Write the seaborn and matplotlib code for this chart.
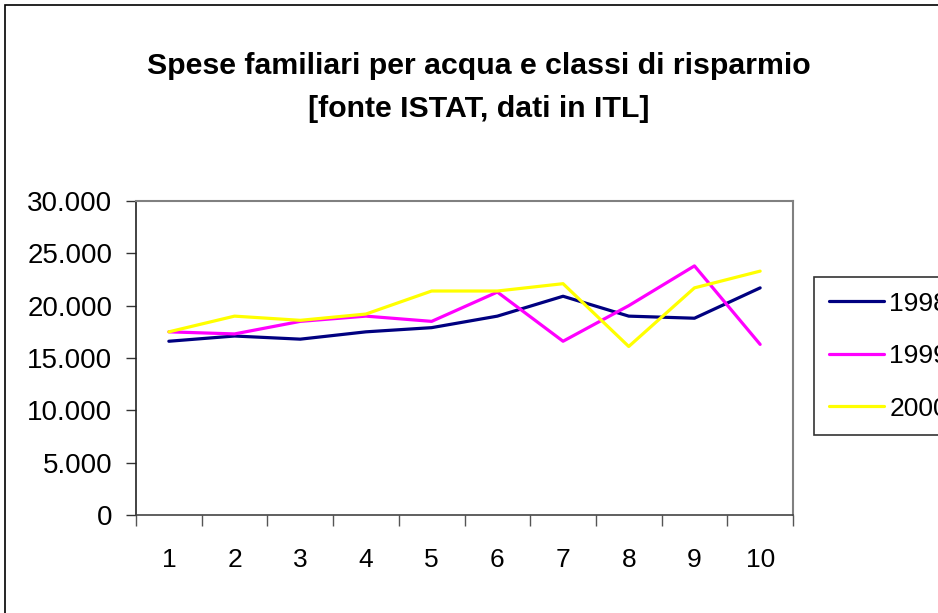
import pandas as pd
import matplotlib
matplotlib.use("Agg")
import matplotlib.pyplot as plt
from matplotlib.patches import Rectangle
from matplotlib.ticker import FuncFormatter, FixedLocator
import seaborn as sns

# data (ITL)
classes = [1, 2, 3, 4, 5, 6, 7, 8, 9, 10]
spese_1998 = [16600, 17100, 16800, 17500, 17900, 19000, 20900, 19000, 18800, 21700]
spese_1999 = [17500, 17300, 18500, 19000, 18500, 21300, 16600, 20000, 23800, 16300]
spese_2000 = [17500, 19000, 18600, 19200, 21400, 21400, 22100, 16100, 21700, 23300]
years = ["1998", "1999", "2000"]
colors = ["#000080", "#FF00FF", "#FFFF00"]

df = pd.DataFrame({
    "classe": classes * 3,
    "spesa": spese_1998 + spese_1999 + spese_2000,
    "anno": [y for y in years for _ in classes],
})

sns.set_theme(style="white")
plt.rcParams["font.family"] = ["Liberation Sans", "DejaVu Sans"]
plt.rcParams["text.color"] = "black"
plt.rcParams["xtick.labelcolor"] = "black"
plt.rcParams["ytick.labelcolor"] = "black"

fig = plt.figure(figsize=(9.38, 6.13), dpi=100)
ax = fig.add_axes([136 / 938, 1 - 515 / 613, (793 - 136) / 938, (515 - 201) / 613])

sns.lineplot(data=df, x="classe", y="spesa", hue="anno", palette=colors,
             linewidth=2.3, ax=ax, legend=False)

# outer chart border
fig.patches.append(Rectangle((5 / 938, -0.1), 1.2, 1.1 - 5 / 613,
                             transform=fig.transFigure, fill=False,
                             edgecolor="black", linewidth=1.2, zorder=-1))

ax.set_xlim(0.5, 10.5)
ax.set_ylim(0, 30000)
ax.set_xlabel("")
ax.set_ylabel("")

ax.set_yticks(range(0, 30001, 5000))
ax.yaxis.set_major_formatter(FuncFormatter(lambda v, p: f"{int(v):,}".replace(",", ".")))
ax.tick_params(axis="y", which="major", direction="out", length=7, width=1,
               color="#333333", labelsize=20, pad=10, left=True)

ax.set_xticks(classes)
ax.set_xticklabels([str(c) for c in classes])
ax.xaxis.set_minor_locator(FixedLocator([c - 0.5 for c in classes] + [10.5]))
ax.tick_params(axis="x", which="major", length=0, labelsize=19, pad=24)
ax.tick_params(axis="x", which="minor", direction="out", length=8, width=1,
               color="#555555", bottom=True)

for side in ["top", "right"]:
    ax.spines[side].set_color("#808080")
    ax.spines[side].set_linewidth(1.5)
ax.spines["left"].set_color("#222222")
ax.spines["bottom"].set_color("#444444")
ax.spines["left"].set_linewidth(1.2)
ax.spines["bottom"].set_linewidth(1.2)

fig.text(479 / 938, 1 - 66 / 613, "Spese familiari per acqua e classi di risparmio",
         ha="center", va="center", fontsize=21.8, fontweight="bold")
fig.text(479 / 938, 1 - 109 / 613, "[fonte ISTAT, dati in ITL]",
         ha="center", va="center", fontsize=21.8, fontweight="bold")

handles = [plt.Line2D([], [], color=c, linewidth=2.3) for c in colors]
leg = fig.legend(handles, years, loc="upper left",
                 bbox_to_anchor=(814 / 938, 1 - 277 / 613),
                 bbox_transform=fig.transFigure, fontsize=19, frameon=True,
                 fancybox=False, borderaxespad=0, borderpad=0.55,
                 labelspacing=1.08, handlelength=2.1, handletextpad=0.2)
leg.get_frame().set_edgecolor("black")
leg.get_frame().set_linewidth(1.2)

fig.savefig("out.png", dpi=100)
